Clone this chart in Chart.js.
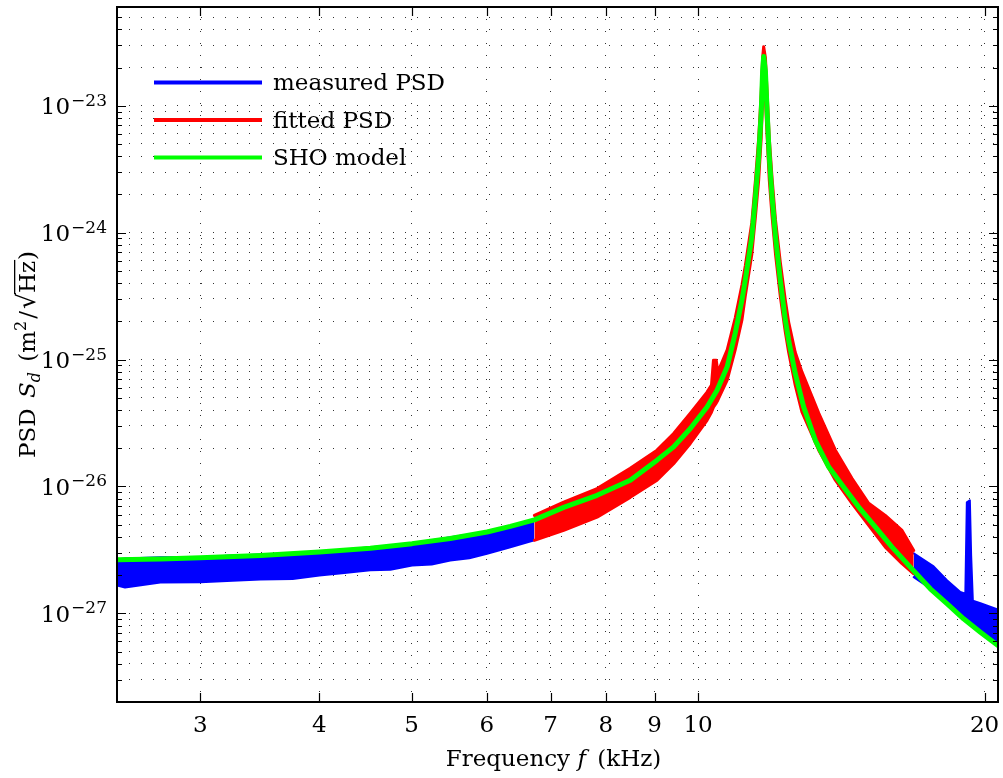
<!DOCTYPE html>
<html>
<head>
<meta charset="utf-8">
<script src="https://cdn.jsdelivr.net/npm/chart.js@4.4.0/dist/chart.umd.min.js"></script>
<style>
  html, body { margin: 0; padding: 0; background: #fff; }
  canvas { display: block; }
</style>
</head>
<body>
<canvas id="psdChart" width="1003" height="778"></canvas>
<script>
/* data: frequency in kHz, PSD in m^2/sqrt(Hz) */

// SHO model (green)
const freqModel = [2.452, 2.723, 3.000, 3.469, 4.001, 4.526, 5.006, 5.491, 6.002, 6.350, 6.730, 7.225, 7.833, 8.487,
    9.055, 9.426, 9.815, 10.22, 10.47, 10.73, 10.94, 11.12, 11.21, 11.39, 11.49, 11.58, 11.65, 11.69, 11.72, 11.77,
    11.82, 11.88, 11.96, 12.06, 12.20, 12.35, 12.45, 12.65, 12.91, 13.28, 13.72, 14.22, 14.75, 15.36, 15.99, 16.71,
    17.54, 18.26, 19.01, 19.80, 20.66];
const psdModel = [2.64e-27, 2.68e-27, 2.74e-27, 2.86e-27, 3.04e-27, 3.25e-27, 3.54e-27, 3.89e-27, 4.37e-27, 4.84e-27,
    5.45e-27, 6.84e-27, 8.51e-27, 1.12e-26, 1.61e-26, 2.05e-26, 2.86e-26, 4.23e-26, 5.73e-26, 8.76e-26, 1.61e-25,
    2.94e-25, 4.23e-25, 9.30e-25, 1.92e-24, 3.98e-24, 8.76e-24, 1.86e-23, 2.44e-23, 1.86e-23, 8.76e-24, 3.98e-24,
    1.92e-24, 9.30e-25, 4.23e-25, 2.05e-25, 1.42e-25, 7.77e-26, 4.23e-26, 2.31e-26, 1.42e-26, 9.89e-27, 6.88e-27,
    4.78e-27, 3.32e-27, 2.31e-27, 1.56e-27, 1.19e-27, 9.05e-28, 7.10e-28, 5.57e-28];

// fitted PSD (red band, upper / lower edge)
const freqFit = [6.730, 7.225, 7.833, 8.487, 9.055, 9.426, 9.815, 10.22, 10.33, 10.38, 10.45, 10.49, 10.73, 10.94,
    11.12, 11.21, 11.39, 11.49, 11.58, 11.65, 11.69, 11.72, 11.77, 11.82, 11.88, 11.96, 12.06, 12.20, 12.35, 12.45,
    12.65, 12.86, 13.39, 13.94, 14.51, 15.11, 15.73, 16.38, 16.85];
const psdFitUpper = [5.91e-27, 7.53e-27, 9.61e-27, 1.39e-26, 1.93e-26, 2.61e-26, 3.78e-26, 5.53e-26, 6.28e-26,
    9.89e-26, 9.89e-26, 7.95e-26, 1.19e-25, 2.12e-25, 3.87e-25, 5.46e-25, 1.21e-24, 2.61e-24, 5.59e-24, 1.24e-23,
    2.39e-23, 2.92e-23, 2.39e-23, 1.24e-23, 5.59e-24, 2.70e-24, 1.26e-24, 5.87e-25, 2.94e-25, 1.97e-25, 1.14e-25,
    7.95e-26, 3.78e-26, 1.93e-26, 1.16e-26, 7.36e-27, 5.91e-27, 4.50e-27, 3.13e-27];
const psdFitLower = [3.76e-27, 4.50e-27, 5.73e-27, 8.20e-27, 1.12e-26, 1.51e-26, 2.18e-26, 3.32e-26, 3.84e-26,
    4.21e-26, 4.53e-26, 4.78e-26, 6.88e-26, 1.19e-25, 2.05e-25, 3.17e-25, 6.79e-25, 1.35e-24, 2.61e-24, 5.59e-24,
    1.12e-23, 1.76e-23, 1.12e-23, 5.59e-24, 2.61e-24, 1.35e-24, 6.79e-25, 3.17e-25, 1.65e-25, 1.14e-25, 6.28e-26,
    3.84e-26, 1.93e-26, 1.12e-26, 7.36e-27, 4.93e-27, 3.32e-27, 2.46e-27, 2.05e-27];

// measured PSD outside the fit window (blue bands)
const freqLow = [2.452, 2.50, 2.723, 3.000, 3.20, 3.469, 3.75, 4.001, 4.25, 4.526, 4.75, 5.006, 5.25, 5.491, 5.75,
    6.002, 6.350, 6.730];
const psdLowUpper = [2.66e-27, 2.70e-27, 2.76e-27, 2.76e-27, 2.84e-27, 2.91e-27, 2.98e-27, 3.07e-27, 3.18e-27,
    3.31e-27, 3.42e-27, 3.56e-27, 3.76e-27, 3.97e-27, 4.18e-27, 4.42e-27, 4.84e-27, 5.50e-27];
const psdLowLower = [1.66e-27, 1.60e-27, 1.75e-27, 1.76e-27, 1.80e-27, 1.85e-27, 1.86e-27, 1.99e-27, 2.08e-27,
    2.18e-27, 2.20e-27, 2.38e-27, 2.42e-27, 2.61e-27, 2.72e-27, 2.95e-27, 3.31e-27, 3.76e-27];

const freqHigh = [16.85, 17.68, 18.26, 18.86, 19.09, 19.16, 19.30, 19.36, 19.44, 19.80, 20.66];
const psdHighUpper = [2.97e-27, 2.34e-27, 1.82e-27, 1.47e-27, 1.43e-27, 7.49e-27, 7.77e-27, 2.86e-27, 1.26e-27,
    1.20e-27, 1.07e-27];
const psdHighLower = [1.93e-27, 1.51e-27, 1.17e-27, 9.44e-28, 8.77e-28, 8.77e-28, 8.62e-28, 8.46e-28, 8.31e-28,
    7.06e-28, 5.47e-28];

// axes
const xTickValues = [3, 4, 5, 6, 7, 8, 9, 10, 20];
const xTickLabels = ['3', '4', '5', '6', '7', '8', '9', '10', '20'];
const yMajorValues = [1e-27, 1e-26, 1e-25, 1e-24, 1e-23];
const yTickBase = '10';
const yTickExponents = ['\u221227', '\u221226', '\u221225', '\u221224', '\u221223'];
const xRange = [2.452, 20.66];
const yRange = [2e-28, 6e-23];

const legendLabels = ['measured PSD', 'fitted PSD', 'SHO model'];
const legendColors = ['#0000ff', '#ff0000', '#00ff00'];

// y grid: every 1..9 x 10^n inside the range
const yGridValues = [];
for (let e = -28; e <= -23; e++) {
    for (let m = 1; m <= 9; m++) {
        const v = Number((m + 'e' + e));
        if (v > yRange[0] && v < yRange[1]) yGridValues.push(v);
    }
}

const pts = (xs, ys) => xs.map((x, i) => ({ x: x, y: ys[i] }));

const SERIF = '"DejaVu Serif", serif';

// draws text runs (mixed fonts, sub/superscripts) centred on cx
function drawRuns(ctx, runs, cx, baseline) {
    let total = 0;
    runs.forEach(r => { ctx.font = r.font; r.w = ctx.measureText(r.t).width + (r.gap || 0); total += r.w; });
    let x = cx - total / 2;
    runs.forEach(r => {
        ctx.font = r.font;
        ctx.fillText(r.t, x, baseline + (r.dy || 0));
        if (r.overline) {
            ctx.fillRect(x - 1, baseline - 21, r.w + 1, 1.3);
        }
        x += r.w;
    });
}

const decorations = {
    id: 'decorations',
    afterDraw(chart) {
        const { ctx, chartArea: a, scales: { x, y } } = chart;
        ctx.save();
        ctx.strokeStyle = '#000';
        ctx.fillStyle = '#000';

        // inward tick marks
        ctx.lineWidth = 1.2;
        ctx.beginPath();
        yGridValues.forEach(v => {
            const py = Math.round(y.getPixelForValue(v)) + 0.5;
            const len = yMajorValues.includes(v) ? 9 : 5;
            ctx.moveTo(a.left, py); ctx.lineTo(a.left + len, py);
            ctx.moveTo(a.right, py); ctx.lineTo(a.right - len, py);
        });
        xTickValues.forEach(v => {
            const px = Math.round(x.getPixelForValue(v)) + 0.5;
            ctx.moveTo(px, a.bottom); ctx.lineTo(px, a.bottom - 9);
            ctx.moveTo(px, a.top); ctx.lineTo(px, a.top + 9);
        });
        ctx.stroke();

        // frame
        ctx.lineWidth = 2;
        ctx.strokeRect(a.left, a.top, a.right - a.left, a.bottom - a.top);

        // y labels 10^n
        ctx.textBaseline = 'alphabetic';
        ctx.textAlign = 'left';
        yMajorValues.forEach((v, i) => {
            const py = y.getPixelForValue(v);
            ctx.font = '17px ' + SERIF;
            const ew = ctx.measureText(yTickExponents[i]).width;
            ctx.fillText(yTickExponents[i], 107 - ew, py);
            ctx.font = '23px ' + SERIF;
            const bw = ctx.measureText(yTickBase).width;
            ctx.fillText(yTickBase, 106 - ew - bw, py + 8.5);
        });

        // x labels
        ctx.textAlign = 'center';
        ctx.font = '23px ' + SERIF;
        xTickValues.forEach((v, i) => {
            ctx.fillText(xTickLabels[i], x.getPixelForValue(v), 731.5);
        });

        // axis titles
        ctx.textAlign = 'left';
        const norm = '23px ' + SERIF, ital = 'italic 23px ' + SERIF;
        const small = '16px ' + SERIF, smallIt = 'italic 16px ' + SERIF;
        drawRuns(ctx, [
            { t: 'Frequency ', font: norm },
            { t: 'f', font: ital, gap: 4 },
            { t: ' (kHz)', font: norm }
        ], (a.left + a.right) / 2 - 4, 766);

        ctx.save();
        ctx.translate(35, (a.top + a.bottom) / 2);
        ctx.rotate(-Math.PI / 2);
        drawRuns(ctx, [
            { t: 'PSD ', font: norm, gap: 3 },
            { t: 'S', font: ital },
            { t: 'd', font: smallIt, dy: 5, gap: 3 },
            { t: ' (m', font: norm },
            { t: '2', font: small, dy: -9, gap: 2 },
            { t: '/', font: norm, gap: 2 },
            { t: '\u221a', font: '25px ' + SERIF },
            { t: 'Hz', font: norm, overline: true, gap: 1 },
            { t: ')', font: norm }
        ], 0, 0);
        ctx.restore();

        // legend inside the axes, upper left
        ctx.font = norm;
        legendLabels.forEach((label, i) => {
            const ly = a.top + 75.5 + i * 37.5;
            ctx.strokeStyle = legendColors[i];
            ctx.lineWidth = 4;
            ctx.beginPath();
            ctx.moveTo(154, ly); ctx.lineTo(262, ly);
            ctx.stroke();
            ctx.fillStyle = '#000';
            ctx.fillText(label, 273, ly + 7.5);
        });
        ctx.restore();
    }
};

const band = (label, data, color, fill, order, width) => ({
    label: label,
    data: data,
    borderColor: color,
    backgroundColor: color,
    borderWidth: width,
    borderJoinStyle: 'round',
    borderCapStyle: 'round',
    pointRadius: 0,
    tension: 0,
    fill: fill,
    order: order
});

new Chart(document.getElementById('psdChart'), {
    type: 'line',
    data: {
        datasets: [
            band('SHO model', pts(freqModel, psdModel), legendColors[2], false, 0, 5),
            band('fitted PSD', pts(freqFit, psdFitUpper), legendColors[1], '+1', 1, 3),
            band('fitted PSD', pts(freqFit, psdFitLower), legendColors[1], false, 1, 3),
            band('measured PSD', pts(freqLow, psdLowUpper), legendColors[0], '+1', 2, 2),
            band('measured PSD', pts(freqLow, psdLowLower), legendColors[0], false, 2, 2),
            band('measured PSD', pts(freqHigh, psdHighUpper), legendColors[0], '+1', 2, 2),
            band('measured PSD', pts(freqHigh, psdHighLower), legendColors[0], false, 2, 2)
        ]
    },
    options: {
        responsive: false,
        animation: false,
        layout: { padding: { left: 0, right: 5, top: 7, bottom: 0 } },
        plugins: {
            legend: { display: false },
            tooltip: { enabled: false }
        },
        scales: {
            x: {
                type: 'logarithmic',
                min: xRange[0],
                max: xRange[1],
                afterBuildTicks: (scale) => {
                    scale.ticks = xTickValues.map(v => ({ value: v }));
                },
                afterFit: (scale) => { scale.height = 76; },
                ticks: { display: false },
                grid: { color: '#333', lineWidth: 1, drawTicks: false },
                border: { display: false, dash: [1, 11] }
            },
            y: {
                type: 'logarithmic',
                min: yRange[0],
                max: yRange[1],
                afterBuildTicks: (scale) => {
                    scale.ticks = yGridValues.map(v => ({ value: v }));
                },
                afterFit: (scale) => { scale.width = 117; },
                ticks: { display: false },
                grid: { color: '#333', lineWidth: 1, drawTicks: false },
                border: { display: false, dash: [1, 11] }
            }
        }
    },
    plugins: [decorations]
});
</script>
</body>
</html>
